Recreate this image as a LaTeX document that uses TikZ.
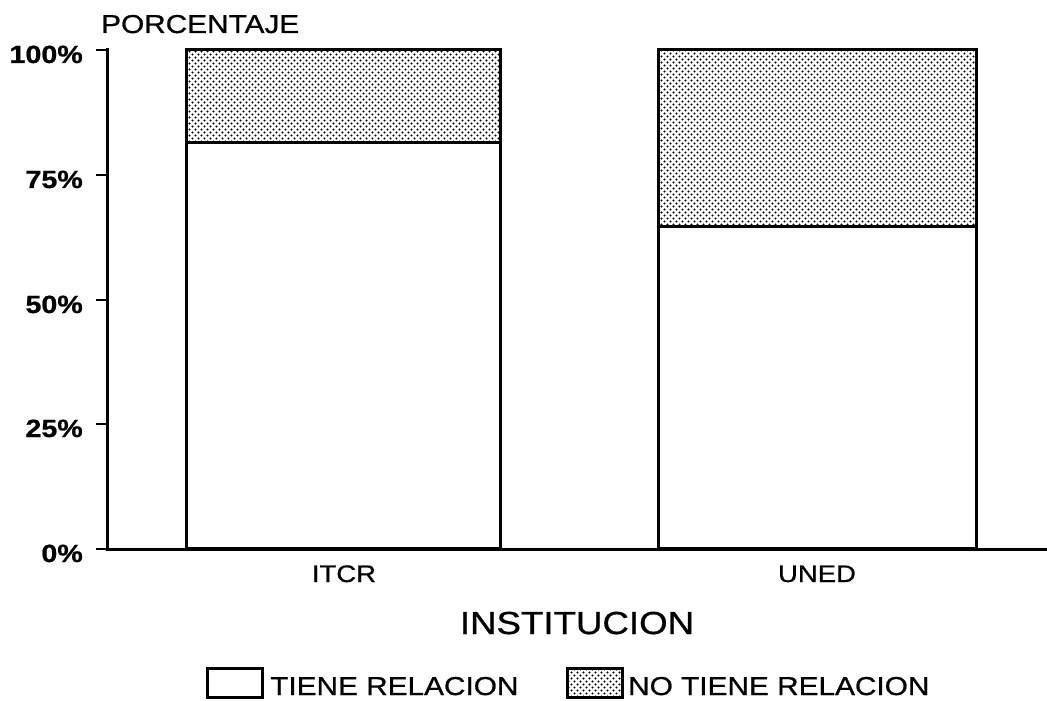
\documentclass[tikz,border=0pt]{standalone}
\usepackage{fontspec}
\setmainfont{Liberation Sans}[FakeStretch=1.15, FakeBold=0.8]
\usetikzlibrary{patterns.meta}
\pgfdeclarepattern{
  name=stipple,
  type=uncolored,
  bottom left={\pgfpoint{0pt}{0pt}},
  top right={\pgfpoint{6pt}{6pt}},
  tile size={\pgfpoint{6pt}{6pt}},
  code={
    \pgfpathcircle{\pgfpoint{1.5pt}{1.5pt}}{1.1pt}
    \pgfpathcircle{\pgfpoint{4.5pt}{4.5pt}}{1.1pt}
    \pgfusepath{fill}
  }
}
\tikzset{
  axisline/.style={line width=3bp, line cap=rect},
  barline/.style={draw=black, line width=3bp, line join=miter},
  stip/.style={pattern={stipple}, pattern color=black},
  ticklabel/.style={font=\fontsize{25}{25}\selectfont\bfseries, anchor=base east, inner sep=0pt},
  catlabel/.style={font=\fontsize{24}{24}\selectfont, anchor=base, inner sep=0pt},
  legtext/.style={font=\fontsize{26}{26}\selectfont, anchor=base west, inner sep=0pt},
}
\begin{document}
\begin{tikzpicture}[x=1bp,y=-1bp]
\useasboundingbox (0,0) rectangle (1047,701);
% bars
\path[stip] (186,50) rectangle (500,143);
\draw[barline] (186,50) rectangle (500,548);
\draw[barline] (186,143) -- (500,143);
\path[stip] (658,50) rectangle (976,226);
\draw[barline] (658,50) rectangle (976,548);
\draw[barline] (658,226) -- (976,226);
% axes
\coordinate (o) at (107,549);
\coordinate (ytop) at (107,50);
\coordinate (xend) at (1047,549);
\draw[axisline] (ytop) -- (o) -- (xend);
\foreach \yy/\lab in {50/100\%,175/75\%,300/50\%,424/25\%,549/0\%}{
  \draw[line width=2.5bp] (96,\yy) -- (107,\yy);
  \node[ticklabel] (t\yy) at (83,\yy+13) {\lab};
}
\node[font=\fontsize{26}{26}\selectfont, anchor=base west, inner sep=0pt] (ylab) at (101,33) {PORCENTAJE};
\node[catlabel] (itcr) at (344,582) {ITCR};
\node[catlabel] (uned) at (817,582) {UNED};
\node[font=\fontsize{32}{32}\selectfont, anchor=base, inner sep=0pt] (xlab) at (577,634) {INSTITUCION};
% legend
\draw[barline, fill=white] (207,668) rectangle (262,697);
\node[legtext] (l1) at (270,695) {TIENE RELACION};
\draw[barline, stip] (567,668) rectangle (622,697);
\node[legtext] (l2) at (628,695) {NO TIENE RELACION};
\end{tikzpicture}
\end{document}
